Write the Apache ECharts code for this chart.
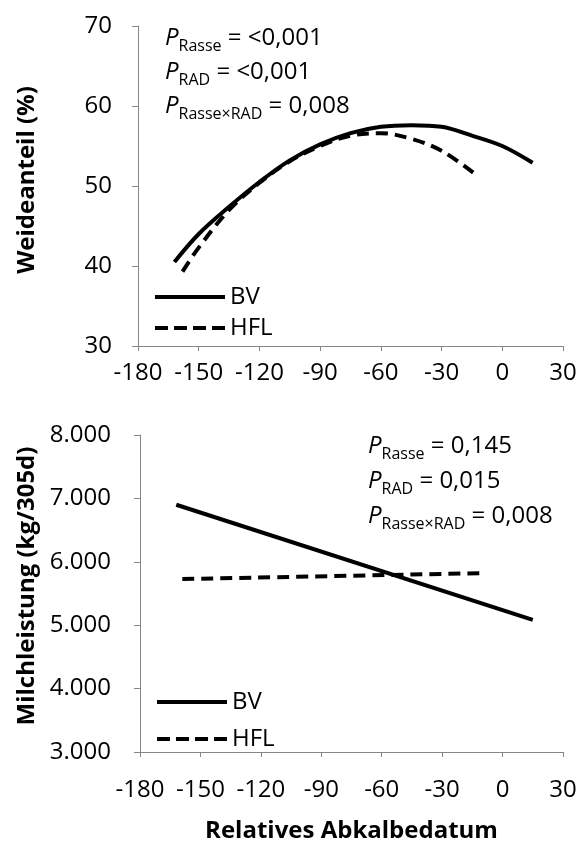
<!DOCTYPE html>
<html><head><meta charset="utf-8">
<script src="https://cdn.jsdelivr.net/npm/echarts@6/dist/echarts.min.js"></script>
<style>html,body{margin:0;padding:0;background:#fff}#c{width:582px;height:845px}</style>
</head><body><div id="c"></div>
<script>
// ---- data ----
const seriesNames = ['BV', 'HFL'];
const bvWeideX = [-162, -150, -135, -120, -105, -90, -75, -60, -45, -30, -15, 0, 15];
const bvWeideY = [40.5, 44.0, 47.4, 50.5, 53.2, 55.2, 56.6, 57.4, 57.6, 57.4, 56.3, 55.0, 52.9];
const hflWeideX = [-158, -150, -135, -120, -105, -90, -75, -60, -45, -30, -14];
const hflWeideY = [39.3, 42.3, 47.0, 50.4, 53.1, 55.0, 56.3, 56.6, 55.9, 54.4, 51.6];
const bvMilchX = [-162, 15];
const bvMilchY = [6900, 5085];
const hflMilchX = [-159, -10];
const hflMilchY = [5727, 5821];
const annotTop = [['Rasse', '<0,001'], ['RAD', '<0,001'], ['Rasse\u00d7RAD', '0,008']];
const annotBottom = [['Rasse', '0,145'], ['RAD', '0,015'], ['Rasse\u00d7RAD', '0,008']];
const yNameTop = 'Weideanteil (%)';
const yNameBottom = 'Milchleistung (kg/305d)';
const xNameBottom = 'Relatives Abkalbedatum';

// ---- build ----
const FONT = 'Open Sans';
const pair = (xs, ys) => xs.map((x, i) => [x, ys[i]]);
const axisGray = '#868686';
const TXT = '#000';

function xAxis(gridIndex, margin, name) {
  return {
    type: 'value', gridIndex, min: -180, max: 30, interval: 30,
    axisLine: { show: true, onZero: false, lineStyle: { color: axisGray, width: 1 } },
    axisTick: { show: true, length: 5, lineStyle: { color: axisGray } },
    splitLine: { show: false },
    axisLabel: { margin, color: TXT, fontFamily: FONT, fontSize: 24 },
    name: name || '', nameLocation: 'middle', nameGap: 67,
    nameTextStyle: { fontFamily: FONT, fontWeight: 'bold', fontSize: 24, color: TXT }
  };
}
function yAxis(gridIndex, min, max, interval, margin, name, gap, shift, fmt) {
  return {
    type: 'value', gridIndex, min, max, interval,
    axisLine: { show: true, onZero: false, lineStyle: { color: axisGray, width: 1 } },
    axisTick: { show: true, length: 6, lineStyle: { color: axisGray } },
    splitLine: { show: false },
    axisLabel: { margin, color: TXT, fontFamily: FONT, fontSize: 24, formatter: fmt },
    name, nameLocation: 'middle', nameRotate: 90, nameGap: gap,
    nameTextStyle: { fontFamily: FONT, fontWeight: 'bold', fontSize: 24, color: TXT, padding: [0, 0, 0, shift] }
  };
}
function lineSeries(name, data, xi, dashed) {
  return {
    type: 'line', name, xAxisIndex: xi, yAxisIndex: xi, data,
    smooth: 0.35, symbol: 'none', showSymbol: false,
    lineStyle: { color: '#000', width: 4, type: dashed ? [12, 7] : 'solid' },
    itemStyle: { color: '#000' }, emphasis: { disabled: true }
  };
}
function annot(list, left, top, lh) {
  const text = list.map(a => '{p|P}{s|' + a[0] + '}{t| = ' + a[1] + '}').join('\n');
  return {
    type: 'text', left, top,
    style: {
      text, fill: TXT,
      rich: {
        p: { fontFamily: FONT, fontStyle: 'italic', fontSize: 24, lineHeight: lh, fill: TXT },
        s: { fontFamily: FONT, fontSize: 16, lineHeight: 16, padding: [16, 0, 0, 0], fill: TXT },
        t: { fontFamily: FONT, fontSize: 24, lineHeight: lh, fill: TXT }
      }
    }
  };
}
const solidIcon = 'path://M0,0h70v4h-70z';
const dashIcon = 'path://M0,0h13v4h-13z M19,0h13v4h-13z M38,0h13v4h-13z M57,0h13v4h-13z';
function legend(left, top, gap) {
  return {
    data: [{ name: seriesNames[0], icon: solidIcon }, { name: seriesNames[1], icon: dashIcon }],
    orient: 'vertical', left, top, itemWidth: 70, itemHeight: 4, itemGap: gap,
    selectedMode: false,
    itemStyle: { color: '#000', borderWidth: 0 },
    textStyle: { fontFamily: FONT, fontSize: 24, lineHeight: 24, color: TXT }
  };
}

const chart = echarts.init(document.getElementById('c'));
chart.setOption({
  animation: false,
  backgroundColor: '#fff',
  grid: [
    { left: 138, top: 26, width: 425, height: 320 },
    { left: 140, top: 435, width: 423, height: 317 }
  ],
  xAxis: [xAxis(0, 15), xAxis(1, 26, xNameBottom)],
  yAxis: [
    yAxis(0, 30, 70, 10, 26, yNameTop, 99, 12),
    yAxis(1, 3000, 8000, 1000, 29, yNameBottom, 101, 15, v => (v / 1000) + '.000')
  ],
  legend: [legend(150, 280, 7), legend(152, 685, 13)],
  series: [
    lineSeries(seriesNames[0], pair(bvWeideX, bvWeideY), 0, false),
    lineSeries(seriesNames[1], pair(hflWeideX, hflWeideY), 0, true),
    lineSeries(seriesNames[0], pair(bvMilchX, bvMilchY), 1, false),
    lineSeries(seriesNames[1], pair(hflMilchX, hflMilchY), 1, true)
  ],
  graphic: [annot(annotTop, 165, 22, 34), annot(annotBottom, 368, 430, 35)]
});
</script></body></html>
